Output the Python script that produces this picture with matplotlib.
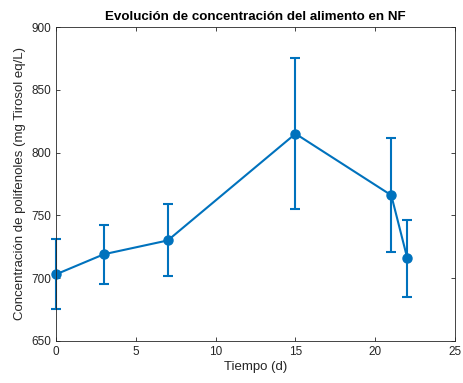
import matplotlib
matplotlib.use("Agg")
import matplotlib.pyplot as plt

plt.rcParams['font.family'] = ['Liberation Sans', 'DejaVu Sans']

tiempo = [0, 3, 7, 15, 21, 22]
conc = [703, 719, 730, 815, 766, 716]
err_low = [675.5, 695.6, 702, 755, 721, 685.3]
err_high = [731, 742, 759, 875.5, 811.3, 746.3]

yerr = [[c - l for c, l in zip(conc, err_low)], [h - c for c, h in zip(conc, err_high)]]

fig = plt.figure(figsize=(4.63, 3.83), dpi=100)
ax = fig.add_axes([0.121, 0.110, 0.862, 0.8195])
col = '#0072BD'
cont = ax.errorbar(tiempo, conc, yerr=yerr, color=col, marker='o', markersize=6.5,
                   linewidth=1.5, capsize=3.5, capthick=1.5, elinewidth=1.5)
for artist in cont.get_children():
    artist.set_clip_on(False)
ax.set_xlim(0, 25)
ax.set_ylim(650, 900)
ax.set_xticks([0, 5, 10, 15, 20, 25])
ax.set_yticks([650, 700, 750, 800, 850, 900])
ax.tick_params(direction='in', length=3, width=0.6, colors='#262626', labelsize=8.5,
               top=True, right=True, labeltop=False, labelright=False)
ax.tick_params(axis='x', pad=4)
for s in ax.spines.values():
    s.set_color('#262626')
    s.set_linewidth(0.6)
ax.set_xlabel('Tiempo (d)', fontsize=9.5, color='#262626', labelpad=2)
ax.set_ylabel('Concentración de polifenoles (mg Tirosol eq/L)', fontsize=9.5, color='#262626', labelpad=4)
ax.set_title('Evolución de concentración del alimento en NF', fontsize=9.6, fontweight='bold', pad=5)
fig.savefig('out.png', dpi=100)
